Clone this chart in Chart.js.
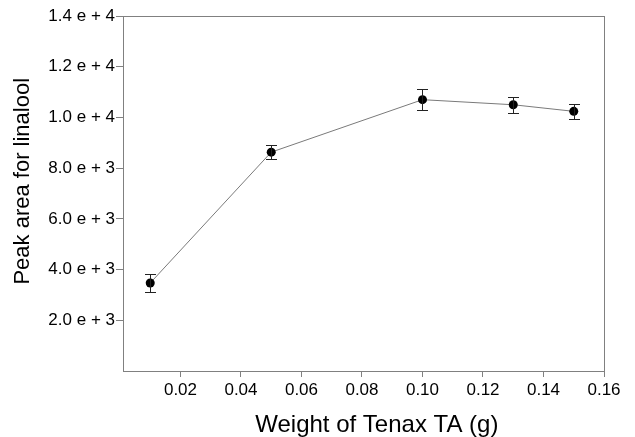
<!DOCTYPE html>
<html>
<head>
<meta charset="utf-8">
<script src="https://cdn.jsdelivr.net/npm/chart.js@4"></script>
<style>
    html, body { margin: 0; padding: 0; background: #fff; }
    #wrap { width: 635px; height: 437px; }
</style>
</head>
<body>
<div id="wrap"><canvas id="chart"></canvas></div>
<script>
// data
const weights = [0.01, 0.05, 0.10, 0.13, 0.15];
const peakArea = [3470, 8630, 10700, 10500, 10240];
const peakErr = [370, 275, 405, 310, 300];

const xTicks = [0.02, 0.04, 0.06, 0.08, 0.10, 0.12, 0.14, 0.16];
const xTickLabels = ['0.02', '0.04', '0.06', '0.08', '0.10', '0.12', '0.14', '0.16'];
const yTicks = [2000, 4000, 6000, 8000, 10000, 12000, 14000];
const yTickLabels = ['2.0 e + 3', '4.0 e + 3', '6.0 e + 3', '8.0 e + 3', '1.0 e + 4', '1.2 e + 4', '1.4 e + 4'];

const FONT = "'Liberation Sans', Arial, sans-serif";
const AXIS_GRAY = '#808080';

// error bars drawn with the chart's own scales
const errorBars = {
    id: 'errorBars',
    afterDatasetsDraw(chart) {
        const ctx = chart.ctx;
        const xs = chart.scales.x;
        const ys = chart.scales.y;
        ctx.save();
        ctx.strokeStyle = '#222';
        ctx.lineWidth = 1;
        weights.forEach((w, i) => {
            const x = Math.round(xs.getPixelForValue(w)) + 0.5;
            const top = Math.round(ys.getPixelForValue(peakArea[i] + peakErr[i])) + 0.5;
            const bot = Math.round(ys.getPixelForValue(peakArea[i] - peakErr[i])) + 0.5;
            ctx.beginPath();
            ctx.moveTo(x, top); ctx.lineTo(x, bot);
            ctx.moveTo(x - 5.5, top); ctx.lineTo(x + 5.5, top);
            ctx.moveTo(x - 5.5, bot); ctx.lineTo(x + 5.5, bot);
            ctx.stroke();
        });
        ctx.restore();
    }
};

// box round the plot area
const frame = {
    id: 'frame',
    beforeDatasetsDraw(chart) {
        const { left, right, top, bottom } = chart.chartArea;
        const ctx = chart.ctx;
        ctx.save();
        ctx.strokeStyle = AXIS_GRAY;
        ctx.lineWidth = 1;
        ctx.strokeRect(Math.round(left) + 0.5, Math.round(top) + 0.5,
            Math.round(right - left), Math.round(bottom - top));
        ctx.restore();
    }
};

new Chart(document.getElementById('chart'), {
    type: 'scatter',
    data: {
        datasets: [{
            data: weights.map((w, i) => ({ x: w, y: peakArea[i] })),
            showLine: true,
            borderColor: '#7a7a7a',
            borderWidth: 1,
            pointRadius: 4.5,
            pointBackgroundColor: '#000',
            pointBorderColor: '#000',
            pointBorderWidth: 0
        }]
    },
    options: {
        responsive: true,
        maintainAspectRatio: false,
        animation: false,
        layout: { padding: { top: 16, right: 31, left: 0, bottom: 0 } },
        plugins: {
            legend: { display: false },
            tooltip: { enabled: false }
        },
        scales: {
            x: {
                type: 'linear',
                min: 0.001,
                max: 0.16,
                afterBuildTicks: (scale) => { scale.ticks = xTicks.map(v => ({ value: v })); },
                afterFit: (scale) => { scale.height = 66; },
                ticks: {
                    color: '#000',
                    font: { family: FONT, size: 17 },
                    padding: 3,
                    maxRotation: 0,
                    autoSkip: false,
                    callback: (v, i) => xTickLabels[i]
                },
                grid: { drawOnChartArea: false, tickLength: 6, tickColor: AXIS_GRAY },
                border: { color: AXIS_GRAY },
                title: {
                    display: true,
                    // leading spaces nudge the title right like the original
                    text: '    Weight of Tenax TA (g)',
                    color: '#000',
                    font: { family: FONT, size: 24 },
                    padding: { top: 0, bottom: -3 }
                }
            },
            y: {
                type: 'linear',
                min: 0,
                max: 14000,
                afterBuildTicks: (scale) => { scale.ticks = yTicks.map(v => ({ value: v })); },
                afterFit: (scale) => { scale.width = 123; },
                ticks: {
                    color: '#000',
                    font: { family: FONT, size: 17 },
                    padding: 1,
                    autoSkip: false,
                    callback: (v, i) => yTickLabels[i]
                },
                grid: { drawOnChartArea: false, tickLength: 7, tickColor: AXIS_GRAY },
                border: { color: AXIS_GRAY },
                title: {
                    display: true,
                    text: '    Peak area for linalool',
                    color: '#000',
                    font: { family: FONT, size: 22 },
                    padding: { top: 10, bottom: 0 }
                }
            }
        }
    },
    plugins: [frame, errorBars]
});
</script>
</body>
</html>
